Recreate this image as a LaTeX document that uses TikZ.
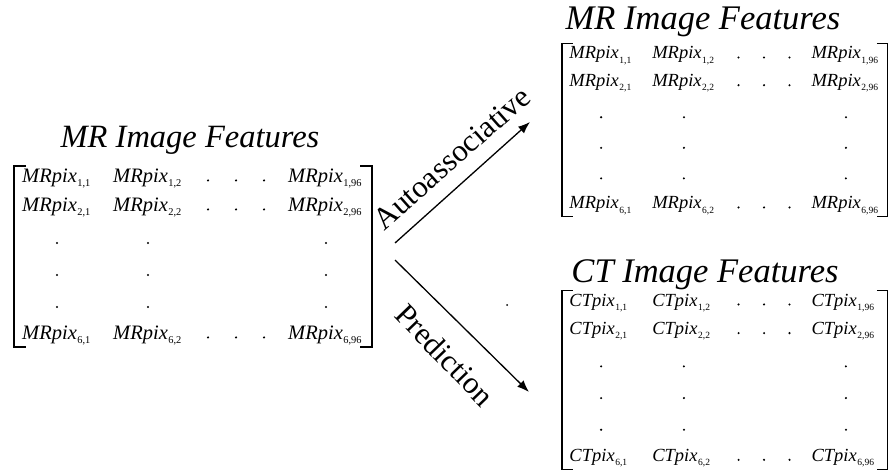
\documentclass[tikz,border=0pt]{standalone}
\usepackage{fontspec}
\setmainfont{Liberation Serif}
\usetikzlibrary{arrows.meta}

% one matrix entry: italic name with an upright subscript
\newcommand\mxsub{\fontsize{10.4}{10.4}\selectfont}
\newcommand\mxent[2]{\textit{#1}\kern0.6pt\raisebox{-0.22em}{\mxsub #2}}

% a 6 x 96 feature matrix: #1 name prefix, #2 entry word, #3/#4 origin,
% #5/#6 spacing scale, #7 entry size, #8 subscript size
\newcommand\featmat[8]{%
\begin{scope}[shift={(#3,#4)}, xscale=#5, yscale=#6,
    ent/.style={anchor=base west, inner sep=0pt, font=\fontsize{#7}{#7}\selectfont}]
  \renewcommand\mxsub{\fontsize{#8}{#8}\selectfont}
  % rows 1, 2 and 6
  \foreach \r/\ry in {1/0, 2/29, 6/157}{
    \node[ent] (#1-\r-1) at (8,\ry) {\mxent{#2}{\r,1}};
    \node[ent] (#1-\r-2) at (99,\ry) {\mxent{#2}{\r,2}};
    \node[ent] (#1-\r-96) at (274,\ry) {\mxent{#2}{\r,96}};
    \foreach \dx in {194,222,250}
      \node[mdot] (#1-\r-h\dx) at (\dx,\ry-1.6) {};
  }
  % vertical ellipses
  \foreach \vy in {61,93,125}
    \foreach \vx in {43,134,312}
      \node[mdot] (#1-v\vx-\vy) at (\vx,\vy) {};
  % brackets
  \draw[brk] (12,-16) -- (0,-16) -- (0,165) -- (12,165);
  \draw[brk] (346,-16) -- (358,-16) -- (358,165) -- (346,165);
\end{scope}}

\begin{document}
\begin{tikzpicture}[x=1pt, y=-1pt,
  mdot/.style={circle, fill=black, inner sep=0pt, minimum size=2.3pt},
  brk/.style={line width=1.3pt},
  heading/.style={anchor=base, inner sep=0pt, font=\fontsize{32.5}{32.5}\selectfont\itshape},
  bigheading/.style={heading, font=\fontsize{34.5}{34.5}\selectfont\itshape},
  arrowlbl/.style={inner sep=0pt, font=\fontsize{31}{31}\selectfont},
  flow/.style={-{Latex[length=12pt,width=9pt]}, line width=1.3pt}]

\fill[white] (0,0) rectangle (891,476);
\useasboundingbox (0,0) rectangle (891,476);

% input matrix
\node[heading] (mrin) at (190,147) {MR Image Features};
\featmat{mrA}{MRpix}{14}{182}{1}{1}{20.5}{10.4}

% reconstructed MR matrix
\node[bigheading] (mrout) at (703,30) {MR Image Features};
\featmat{mrB}{MRpix}{562}{59}{0.91}{0.955}{18.5}{9.5}

% predicted CT matrix
\node[bigheading] (ctout) at (705,282) {CT Image Features};
\featmat{ctC}{CTpix}{562}{306}{0.91}{0.99}{18.5}{9.5}

% mappings
\coordinate (fa) at (395,243);
\coordinate (ta) at (530,122);
\coordinate (fb) at (395,260);
\coordinate (tb) at (529,392);
\draw[flow] (fa) -- (ta);
\draw[flow] (fb) -- (tb);
\node[arrowlbl, rotate=41.5] (auto) at (452,158) {Autoassociative};
\node[arrowlbl, rotate=-46] (pred) at (445,355) {Prediction};
\fill (507,305) circle (1pt);
\end{tikzpicture}
\end{document}
